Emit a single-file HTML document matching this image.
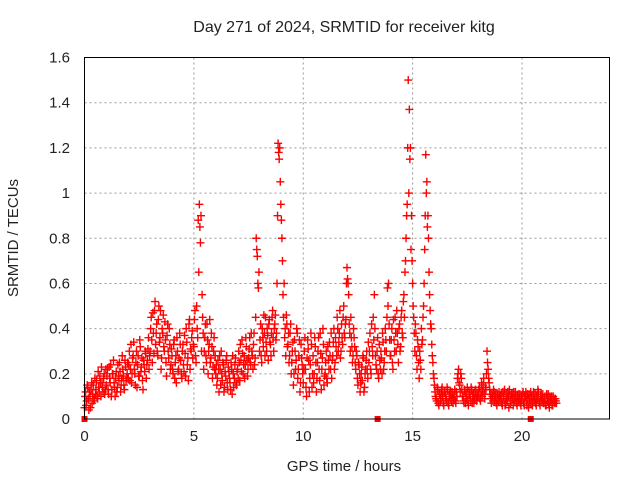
<!DOCTYPE html>
<html><head><meta charset="utf-8"><style>
body{margin:0;background:#fff}
svg text{font-family:"Liberation Sans",sans-serif;font-size:15px;fill:#222}
</style></head><body>
<svg id="chart" width="640" height="480" xmlns="http://www.w3.org/2000/svg">
<text x="344" y="32" text-anchor="middle" style="font-size:16px">Day 271 of 2024, SRMTID for receiver kitg</text>
<text x="344" y="471" text-anchor="middle">GPS time / hours</text>
<text transform="translate(18,238) rotate(-90)" text-anchor="middle">SRMTID / TECUs</text>
<g id="grid"></g><g id="ticks"></g><g id="marks"></g>
<rect x="84.5" y="57.5" width="525" height="361.5" fill="none" stroke="#000" stroke-width="1"/>
</svg>
<script>
const xTicks=[0,5,10,15,20];
const yTicks=[0,0.2,0.4,0.6,0.8,1,1.2,1.4,1.6];
const yTickLabels=["0","0.2","0.4","0.6","0.8","1","1.2","1.4","1.6"];
const startHour=0;
const stepHours=0.05;
const values=[
.05,.12,.08,.14,.04,.10,.13,.07,.15,.09,.11,.17,.09,.14,.19,.10,.16,.12,.20,.13,
.15,.22,.11,.18,.24,.13,.20,.16,.10,.21,.14,.19,.25,.12,.18,.22,.15,.26,.17,.20,
.18,.30,.22,.16,.27,.34,.20,.25,.14,.28,.19,.32,.23,.17,.26,.21,.29,.24,.31,.22,
.30,.45,.25,.38,.48,.33,.42,.28,.50,.36,.22,.40,.46,.30,.35,.19,.42,.27,.33,.24,
.28,.20,.35,.25,.16,.30,.22,.38,.26,.18,.33,.21,.29,.40,.24,.17,.44,.31,.36,.27,
.32,.48,.25,.40,.88,.95,.78,.30,.45,.22,.36,.28,.42,.20,.33,.25,.38,.18,.30,.22,
.20,.15,.26,.12,.22,.30,.17,.24,.14,.19,.28,.13,.21,.16,.25,.11,.20,.18,.27,.15,
.22,.30,.17,.26,.35,.20,.28,.24,.32,.19,.27,.36,.24,.30,.22,.38,.27,.80,.72,.58,
.30,.42,.25,.36,.46,.28,.34,.40,.26,.44,.33,.38,.48,.30,.42,.35,.60,1.22,1.15,1.05,
.88,.70,.45,.36,.28,.42,.33,.25,.38,.20,.30,.15,.35,.22,.40,.18,.28,.12,.33,.24,
.16,.30,.22,.10,.35,.26,.18,.38,.14,.28,.20,.32,.12,.25,.36,.17,.29,.22,.40,.15,
.20,.30,.16,.26,.34,.22,.18,.28,.40,.25,.32,.45,.30,.38,.27,.42,.33,.50,.36,.44,
.67,.60,.42,.30,.36,.25,.40,.32,.22,.28,.15,.24,.12,.20,.17,.27,.14,.22,.30,.18,
.25,.38,.20,.32,.45,.55,.28,.22,.36,.18,.26,.30,.20,.34,.25,.40,.30,.58,.60,.35,
.28,.40,.22,.35,.45,.30,.38,.25,.42,.32,.48,.36,.55,.65,.80,.95,1.50,1.37,1.20,.90,
.60,.45,.30,.38,.22,.32,.18,.26,.40,.35,.50,.75,1.17,1.05,.90,.65,.48,.40,.28,.20,
.15,.10,.08,.13,.06,.11,.09,.14,.07,.12,.10,.08,.13,.06,.11,.09,.12,.07,.10,.08,
.12,.18,.22,.15,.20,.13,.10,.07,.12,.09,.14,.06,.11,.08,.13,.10,.07,.12,.09,.11,
.10,.14,.08,.16,.12,.18,.09,.13,.30,.22,.16,.11,.07,.10,.13,.08,.11,.06,.09,.12,
.08,.11,.06,.10,.13,.07,.09,.12,.05,.10,.08,.11,.06,.09,.12,.07,.10,.08,.11,.06,
.09,.12,.06,.10,.08,.11,.05,.09,.12,.07,.10,.08,.11,.06,.09,.12,.07,.10,.08,.11,
.07,.10,.06,.09,.11,.05,.08,.10,.06,.09,.07,.08];
const valuesB=[
.10,.06,.15,.09,.12,.05,.16,.11,.08,.18,.13,.10,.21,.12,.16,.23,.14,.18,.11,.22,
.19,.13,.23,.16,.10,.20,.26,.14,.18,.12,.24,.17,.21,.15,.28,.19,.13,.23,.18,.25,
.24,.17,.33,.20,.28,.22,.15,.30,.24,.19,.35,.21,.27,.13,.24,.30,.18,.26,.36,.28,
.40,.35,.47,.29,.52,.38,.30,.44,.34,.48,.27,.38,.32,.43,.25,.37,.30,.40,.22,.31,
.22,.33,.18,.28,.36,.21,.27,.33,.20,.30,.24,.37,.19,.34,.27,.42,.22,.30,.39,.33,
.44,.28,.50,.36,.65,.85,.90,.55,.38,.30,.42,.25,.35,.30,.44,.27,.32,.23,.36,.28,
.24,.18,.22,.28,.15,.20,.25,.12,.21,.26,.16,.23,.18,.13,.22,.28,.14,.24,.16,.21,
.18,.25,.33,.21,.29,.24,.18,.36,.26,.22,.31,.25,.38,.28,.33,.24,.45,.75,.60,.65,
.35,.28,.40,.32,.38,.45,.30,.37,.42,.34,.28,.45,.36,.40,.46,.38,.90,1.18,1.20,.95,
.80,.55,.60,.40,.46,.32,.38,.28,.42,.25,.34,.20,.30,.26,.38,.22,.35,.16,.27,.20,
.22,.36,.14,.27,.31,.12,.24,.33,.20,.16,.36,.25,.18,.30,.22,.38,.13,.27,.33,.19,
.25,.18,.32,.22,.28,.38,.26,.34,.22,.36,.28,.40,.34,.48,.30,.36,.45,.38,.42,.60,
.62,.55,.38,.45,.32,.28,.36,.25,.30,.18,.25,.20,.16,.23,.28,.12,.20,.26,.22,.34,
.30,.22,.42,.28,.35,.40,.24,.30,.20,.33,.22,.27,.38,.22,.30,.35,.45,.50,.42,.28,
.35,.25,.44,.30,.38,.48,.33,.40,.30,.45,.38,.52,.45,.70,.90,1.20,1.00,1.15,.75,.70,
.50,.38,.42,.28,.35,.25,.30,.22,.33,.45,.60,.90,1.00,.85,.80,.55,.42,.33,.25,.18,
.12,.09,.14,.07,.11,.08,.13,.10,.06,.12,.09,.14,.07,.10,.12,.08,.11,.09,.13,.07,
.10,.20,.16,.12,.18,.10,.08,.13,.07,.11,.08,.12,.10,.14,.07,.11,.09,.13,.08,.10,
.13,.09,.12,.10,.15,.11,.14,.20,.25,.18,.13,.09,.11,.08,.12,.10,.07,.11,.08,.10,
.10,.07,.12,.09,.06,.11,.08,.10,.13,.07,.11,.09,.12,.08,.10,.06,.11,.09,.07,.10,
.11,.07,.10,.12,.06,.09,.11,.07,.10,.06,.12,.09,.07,.10,.13,.08,.06,.11,.09,.07,
.09,.06,.11,.08,.07,.10,.09,.06,.10,.08,.09,.07];
const zeroMarkerHours=[0,13.4,20.4];

const X0=84.5,X1=609.5,Y0=419,Y1=57.5,XMAX=24,YMAX=1.6;
const sx=h=>X0+(X1-X0)*h/XMAX;
const sy=v=>Y0-(Y0-Y1)*v/YMAX;
const NS="http://www.w3.org/2000/svg";
function mk(tag,attrs,parent){const e=document.createElementNS(NS,tag);for(const k in attrs)e.setAttribute(k,attrs[k]);parent.appendChild(e);return e;}
const grid=document.getElementById('grid'),ticks=document.getElementById('ticks'),marks=document.getElementById('marks');
xTicks.forEach(t=>{
  const x=sx(t);
  if(t>0){const g=mk('line',{x1:x,y1:Y1,x2:x,y2:Y0,stroke:'#999','stroke-dasharray':'2,3'},grid);
  
  }
  const tx=mk('text',{x:x,y:Y0+22,'text-anchor':'middle'},ticks);tx.textContent=t;
  
  
});
yTicks.forEach((t,i)=>{
  const y=sy(t);
  if(t>0&&t<YMAX){const g=mk('line',{x1:X0,y1:y,x2:X1,y2:y,stroke:'#999','stroke-dasharray':'2,3'},grid);
  
  }
  const tx=mk('text',{x:70,y:y+5,'text-anchor':'end'},ticks);tx.textContent=yTickLabels[i];
  
  
});
function plus(x,y,color){
  const p=mk('path',{d:`M${x-4} ${y}H${x+4}M${x} ${y-4}V${y+4}`,stroke:color,'stroke-width':1.4,fill:'none'},marks);
  return p;
}
valuesB.forEach((v,i)=>{
  const p=plus(sx(startHour+(i+0.5)*stepHours),sy(v),'#f00');
  
  
});
values.forEach((v,i)=>{
  const p=plus(sx(startHour+i*stepHours),sy(v),'#f00');
  
  
});
zeroMarkerHours.forEach(h=>{
  const r=mk('rect',{x:sx(h)-3,y:Y0-3,width:6,height:6,fill:'#f00'},marks);
  
  
});
</script>
</body></html>
